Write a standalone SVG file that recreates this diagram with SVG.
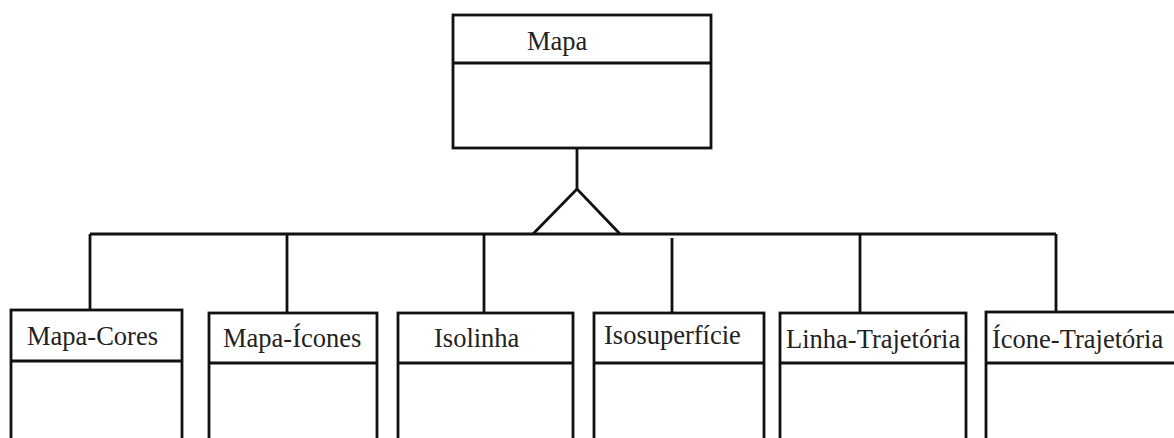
<svg xmlns="http://www.w3.org/2000/svg" width="1174" height="438" viewBox="0 0 1174 438">
<style>
.box{fill:none;stroke:#111;stroke-width:2.8}
.ln{fill:none;stroke:#111;stroke-width:2.8}
.t{font-family:"Liberation Serif","Times New Roman",serif;font-size:26.5px;fill:#222}
</style>
<rect width="1174" height="438" fill="#fff"/>
<g id="connectors">
<line class="ln" x1="577" y1="148" x2="577" y2="189"/>
<polyline class="ln" points="533,234 577,189 620,234" stroke-linejoin="miter"/>
<line class="ln" x1="90" y1="234" x2="1056" y2="234"/>
<line class="ln" x1="90" y1="234" x2="90" y2="310"/>
<line class="ln" x1="287" y1="234" x2="287" y2="313"/>
<line class="ln" x1="484" y1="234" x2="484" y2="313"/>
<line class="ln" x1="672" y1="238" x2="672" y2="313"/>
<line class="ln" x1="860" y1="234" x2="860" y2="313"/>
<line class="ln" x1="1056" y1="234" x2="1056" y2="312"/>
</g>
<g id="mapa">
<rect class="box" x="453" y="15" width="258" height="133"/>
<line class="ln" x1="453" y1="63" x2="711" y2="63"/>
<text class="t" x="527" y="50">Mapa</text>
</g>
<g id="mapa-cores">
<rect class="box" x="11" y="310" width="171" height="140"/>
<line class="ln" x1="11" y1="361" x2="182" y2="361"/>
<text class="t" x="27" y="345">Mapa-Cores</text>
</g>
<g id="mapa-icones">
<rect class="box" x="209" y="313" width="168" height="140"/>
<line class="ln" x1="209" y1="363" x2="377" y2="363"/>
<text class="t" x="223" y="347">Mapa-Ícones</text>
</g>
<g id="isolinha">
<rect class="box" x="398" y="313" width="175" height="140"/>
<line class="ln" x1="398" y1="363" x2="573" y2="363"/>
<text class="t" x="434" y="347">Isolinha</text>
</g>
<g id="isosuperficie">
<rect class="box" x="594" y="313" width="170" height="140"/>
<line class="ln" x1="594" y1="363" x2="764" y2="363"/>
<text class="t" x="604" y="344">Isosuperfície</text>
</g>
<g id="linha-trajetoria">
<rect class="box" x="780" y="313" width="186" height="140"/>
<line class="ln" x1="780" y1="363" x2="966" y2="363"/>
<text class="t" x="786" y="348">Linha-Trajetória</text>
</g>
<g id="icone-trajetoria">
<rect class="box" x="986" y="312" width="200" height="140"/>
<line class="ln" x1="986" y1="363" x2="1186" y2="363"/>
<text class="t" x="992" y="348">Ícone-Trajetória</text>
</g>
</svg>
